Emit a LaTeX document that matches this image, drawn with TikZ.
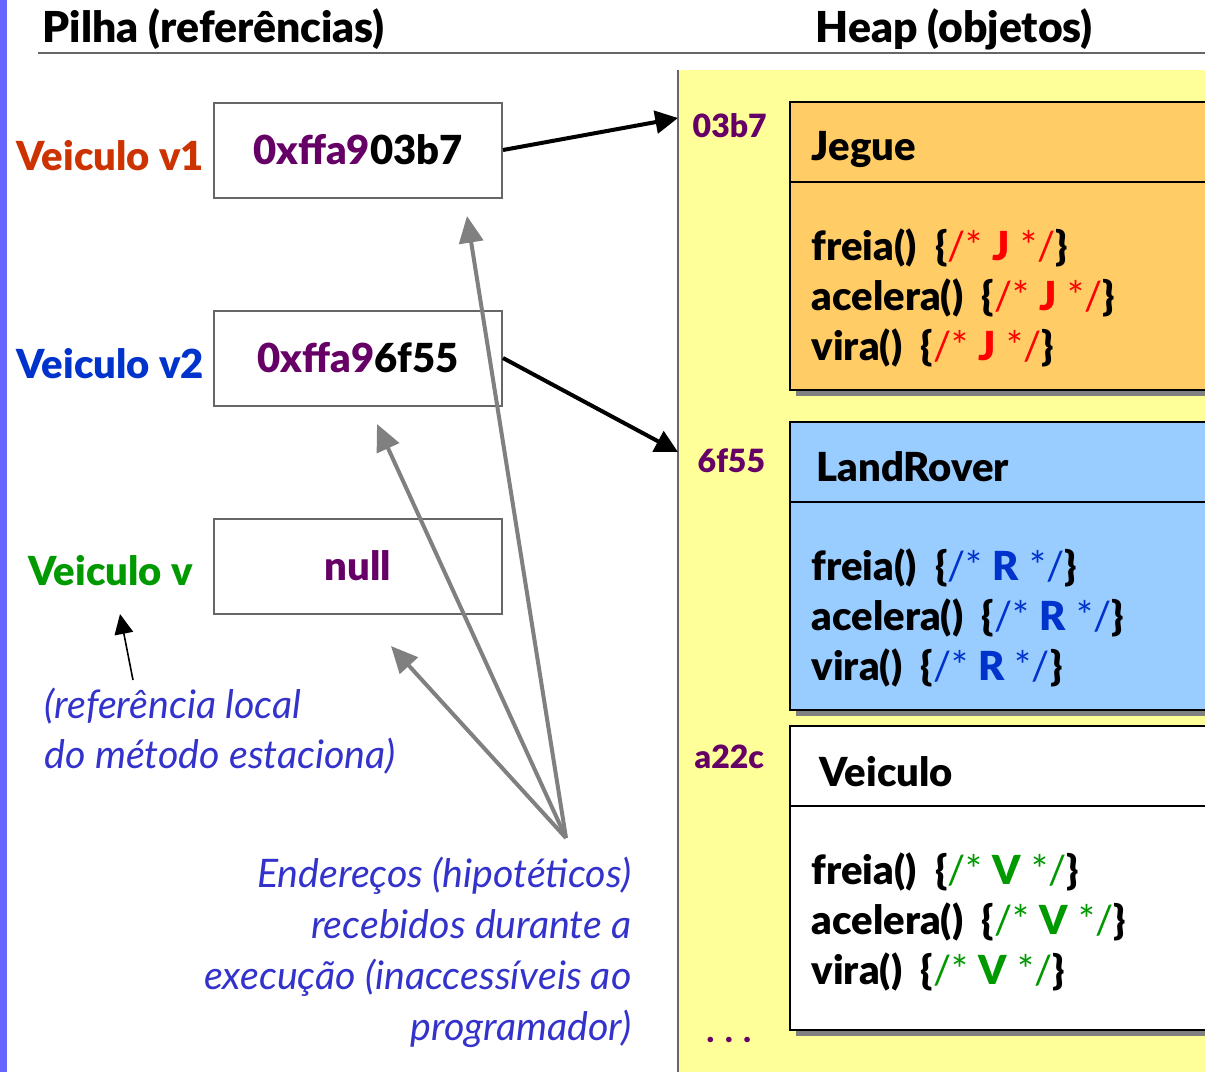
\documentclass[tikz,border=0pt]{standalone}
\usepackage{fontspec}
\setmainfont{Lato}[BoldFont={Lato Black}]
\usetikzlibrary{arrows.meta}

\definecolor{addrpurple}{HTML}{660066}
\definecolor{vone}{HTML}{CC3300}
\definecolor{vtwo}{HTML}{0033CC}
\definecolor{vgreen}{HTML}{009900}
\definecolor{notes}{HTML}{3333CC}
\definecolor{heapyellow}{HTML}{FFFF99}
\definecolor{jegueorange}{HTML}{FFCC66}
\definecolor{roverblue}{HTML}{99CCFF}
\definecolor{sidebar}{HTML}{6666FF}
\definecolor{boxgray}{HTML}{666666}
\definecolor{pointgray}{HTML}{808080}
\definecolor{jred}{HTML}{FF0000}

% one method line of an object: name() {/* X */}
\newcommand{\methline}[3]{#1()\ \ \{{\color{#2}\mdseries/* }{\color{#2}#3}{\color{#2}\mdseries\ */}\}}

\begin{document}
\begin{tikzpicture}[x=0.75pt,y=-0.75pt,
  bigbold/.style={font=\bfseries\fontsize{30}{36}\selectfont},
  title/.style={font=\bfseries\fontsize{32}{36}\selectfont, anchor=base west},
  stackbox/.style={draw=boxgray, line width=1.5pt, minimum width=216pt,
    minimum height=71.25pt, inner sep=0pt, bigbold},
  varlabel/.style={bigbold, anchor=base west},
  addrlabel/.style={font=\bfseries\fontsize{24}{28}\selectfont, text=addrpurple, anchor=base west},
  objtext/.style={bigbold, anchor=base west},
  note/.style={font=\itshape\fontsize{29.5}{34}\selectfont, text=notes},
  refarrow/.style={line width=3pt, -{Triangle[length=17pt,width=17pt]}},
  grayarrow/.style={draw=pointgray, line width=3pt, -{Triangle[length=20pt,width=18pt]}},
  thinarrow/.style={line width=1.2pt, -{Triangle[length=15pt,width=14pt]}},
  objframe/.style={draw=black, line width=1.5pt},
  shadow/.style={fill=pointgray}
]
\useasboundingbox (0,0) rectangle (1205,1072);

% side bar
\fill[sidebar] (0,0) rectangle (7,1072);

% heap area
\fill[heapyellow] (678,70) rectangle (1205,1072);
\draw[boxgray, line width=1.5pt] (678,70) -- (678,1072);

% titles
\node[title] (tstack) at (38,42) {Pilha (referências)};
\node[title] (theap) at (811,42) {Heap (objetos)};
\draw[boxgray, line width=1.5pt] (38,53) -- (1205,53);

% stack references
\node[stackbox] (b1) at (358,150) {\raisebox{-2pt}{{\color{addrpurple}0xffa9}03b7}};
\node[stackbox] (b2) at (358,358) {\raisebox{-2pt}{{\color{addrpurple}0xffa9}6f55}};
\node[stackbox] (b3) at (358,566) {\raisebox{-2pt}{{\color{addrpurple}null}}};

\node[varlabel, text=vone] (l1) at (12,170) {Veiculo v1};
\node[varlabel, text=vtwo] (l2) at (12,378) {Veiculo v2};
\node[varlabel, text=vgreen] (l3) at (24,585) {Veiculo v};

% heap addresses
\node[addrlabel] (a1) at (688,137) {03b7};
\node[addrlabel] (a2) at (693,472) {6f55};
\node[addrlabel] (a3) at (690,768) {a22c};
\node[addrlabel] (a4) at (702,1042) {.\hspace{8pt}.\hspace{8pt}.};

\coordinate (p1) at (678,118);
\coordinate (p2) at (678,452);

% objects in the heap
\begin{scope}
\clip (0,0) rectangle (1205,1072);
% Jegue
\fill[shadow] (796,108) rectangle (1215,396);
\fill[jegueorange] (790,102) rectangle (1215,390);
\draw[objframe] (1215,102) -- (790,102) -- (790,390) -- (1215,390);
\draw[objframe] (790,182) -- (1215,182);
% LandRover
\fill[shadow] (796,428) rectangle (1215,716);
\fill[roverblue] (790,422) rectangle (1215,710);
\draw[objframe] (1215,422) -- (790,422) -- (790,710) -- (1215,710);
\draw[objframe] (790,502) -- (1215,502);
% Veiculo
\fill[shadow] (796,732) rectangle (1215,1036);
\fill[white] (790,726) rectangle (1215,1030);
\draw[objframe] (1215,726) -- (790,726) -- (790,1030) -- (1215,1030);
\draw[objframe] (790,806) -- (1215,806);
\end{scope}

\node[objtext] (jh) at (807,160) {Jegue};
\node[objtext] (j1) at (807,260) {\methline{freia}{jred}{J}};
\node[objtext] (j2) at (807,310) {\methline{acelera}{jred}{J}};
\node[objtext] (j3) at (807,360) {\methline{vira}{jred}{J}};

\node[objtext] (rh) at (812,481) {LandRover};
\node[objtext] (r1) at (807,580) {\methline{freia}{vtwo}{R}};
\node[objtext] (r2) at (807,630) {\methline{acelera}{vtwo}{R}};
\node[objtext] (r3) at (807,680) {\methline{vira}{vtwo}{R}};

\node[objtext] (vh) at (815,786) {Veiculo};
\node[objtext] (v1) at (807,884) {\methline{freia}{vgreen}{V}};
\node[objtext] (v2) at (807,934) {\methline{acelera}{vgreen}{V}};
\node[objtext] (v3) at (807,984) {\methline{vira}{vgreen}{V}};

% references into the heap
\draw[refarrow] (b1.east) -- (p1);
\draw[refarrow] (b2.east) -- (p2);

% notes
\node[note, anchor=base west] (n1) at (40,718) {(referência local};
\node[note, anchor=base west] (n2) at (40,768) {do método estaciona)};
\coordinate (n1top) at (133,680);
\coordinate (l3low) at (120,614);
\draw[thinarrow] (n1top) -- (l3low);

\node[note, anchor=base east] (e1) at (636,887) {Endereços (hipotéticos)};
\node[note, anchor=base east] (e2) at (636,938) {recebidos durante a\ };
\node[note, anchor=base east] (e3) at (636,989) {execução (inaccessíveis ao};
\node[note, anchor=base east] (e4) at (636,1040) {programador)};

\coordinate (src) at (566,838);
\coordinate (t1) at (467,216);
\coordinate (t2) at (377,424);
\coordinate (t3) at (391,646);
\draw[grayarrow] (src) -- (t1);
\draw[grayarrow] (src) -- (t2);
\draw[grayarrow] (src) -- (t3);
\end{tikzpicture}
\end{document}
